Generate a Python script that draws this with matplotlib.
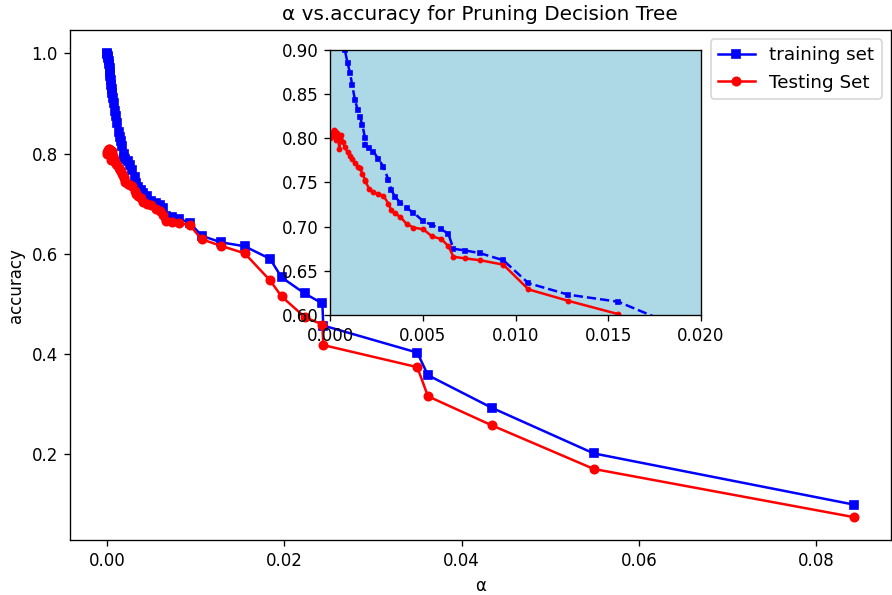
import matplotlib
matplotlib.use('Agg')
import matplotlib.pyplot as plt

# ccp alphas and accuracies
alphas = [0.0, 0.00005, 0.0001, 0.00015, 0.0002, 0.00025, 0.0003, 0.00035, 0.0004,
          0.00045, 0.0005, 0.00055, 0.0006, 0.0007, 0.0008, 0.00095, 0.00108, 0.0012,
          0.00135, 0.0015, 0.00162, 0.00175, 0.00189, 0.0019, 0.0021, 0.00234, 0.0026,
          0.00288, 0.00315, 0.0033, 0.0035, 0.0038, 0.00413, 0.0045, 0.00503, 0.0055,
          0.006, 0.00638, 0.00665, 0.0073, 0.00809, 0.00934, 0.0107, 0.01285, 0.01554,
          0.0184, 0.0197, 0.0223, 0.0243, 0.0244, 0.035, 0.0362, 0.0434, 0.0549, 0.0842]

train_acc = [1.0, 0.998, 0.995, 0.99, 0.985, 0.978, 0.97, 0.962, 0.955,
             0.946, 0.937, 0.928, 0.92, 0.91, 0.90, 0.885, 0.874, 0.86,
             0.843, 0.832, 0.824, 0.815, 0.80, 0.792, 0.789, 0.785, 0.777,
             0.768, 0.753, 0.742, 0.734, 0.727, 0.721, 0.716, 0.706, 0.702,
             0.697, 0.692, 0.675, 0.673, 0.670, 0.662, 0.636, 0.623, 0.615,
             0.590, 0.553, 0.521, 0.501, 0.457, 0.403, 0.358, 0.293, 0.202, 0.100]

test_acc = [0.80, 0.802, 0.805, 0.807, 0.809, 0.808, 0.802, 0.798, 0.806,
            0.80, 0.788, 0.80, 0.804, 0.796, 0.79, 0.784, 0.78, 0.777,
            0.772, 0.768, 0.766, 0.76, 0.753, 0.752, 0.743, 0.739, 0.737,
            0.735, 0.726, 0.719, 0.715, 0.711, 0.703, 0.699, 0.697, 0.689,
            0.686, 0.678, 0.666, 0.664, 0.662, 0.657, 0.629, 0.616, 0.601,
            0.547, 0.515, 0.474, 0.459, 0.418, 0.374, 0.316, 0.258, 0.171, 0.075]

W, H = 892, 595
fig = plt.figure(figsize=(W / 120, H / 120), dpi=120)

ax = fig.add_axes([69.5 / W, 1 - 540.3 / H, (891 - 69.5) / W, (540.3 - 30) / H])
ax.plot(alphas, train_acc, marker='s', markersize=5, color='b', label='training set')
ax.plot(alphas, test_acc, marker='o', markersize=5, color='r', label='Testing Set')
ax.set_xlabel('α')
ax.set_ylabel('accuracy')
ax.set_title('α vs.accuracy for Pruning Decision Tree')
ax.legend(loc='upper right', fontsize=11)

# zoomed inset
ax_in = fig.add_axes([330 / W, 1 - 315 / H, (701 - 330) / W, (315 - 50) / H])
ax_in.set_facecolor('lightblue')
ax_in.plot(alphas, train_acc, 'b--', marker='s', markersize=2.5)
ax_in.plot(alphas, test_acc, 'r-', marker='o', markersize=2.5)
ax_in.set_xlim(0, 0.02)
ax_in.set_ylim(0.6, 0.9)
ax_in.set_xticks([0.0, 0.005, 0.01, 0.015, 0.02])

fig.savefig('out.png', dpi=120)
